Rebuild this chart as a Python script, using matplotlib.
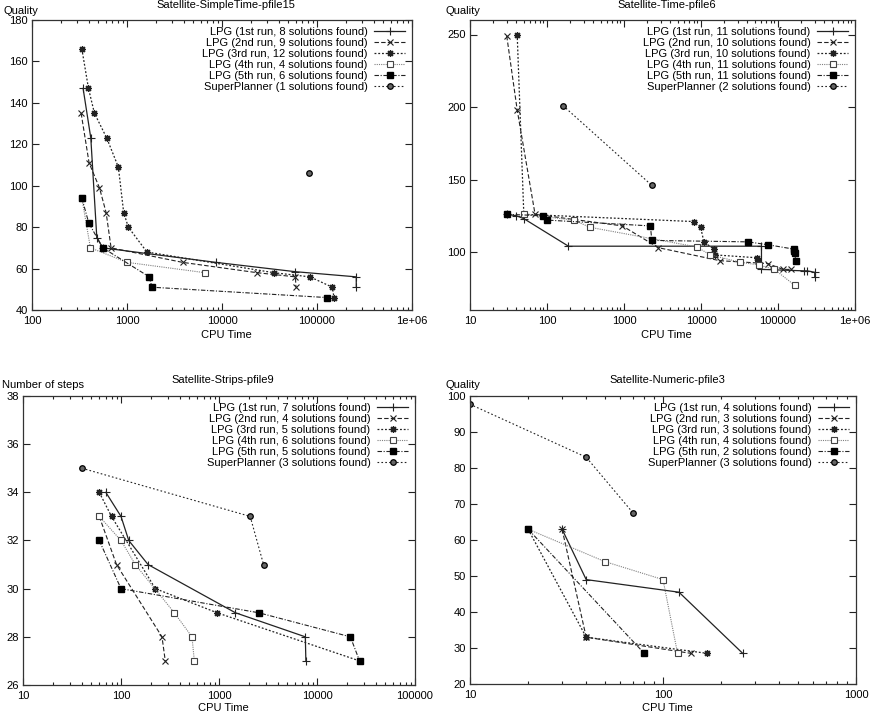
import numpy as np
import matplotlib
matplotlib.use("Agg")
import matplotlib.pyplot as plt
from matplotlib.ticker import FuncFormatter, LogLocator, NullFormatter, MultipleLocator

plt.rcParams['font.family'] = ['Liberation Sans', 'DejaVu Sans']
plt.rcParams['font.size'] = 8

W, H = 876, 717

# ---- data ----
# Satellite-SimpleTime-pfile15
p1_lpg1_x = [345, 416, 481, 556, 8600, 59000, 259000, 259000]
p1_lpg1_y = [147, 123, 75, 70, 63, 58.5, 56, 51]
p1_lpg2_x = [329, 399, 513, 603, 680, 3840, 23500, 59300, 60000]
p1_lpg2_y = [135, 111, 99, 87, 70, 63, 58, 56, 51]
p1_lpg3_x = [335, 393, 454, 612, 811, 923, 1033, 1620, 35200, 84400, 145000, 151000]
p1_lpg3_y = [166, 147, 135, 123, 109, 87, 80, 68, 58, 56, 51, 46]
p1_lpg4_x = [335, 412, 1000, 6640]
p1_lpg4_y = [94, 70, 63, 58]
p1_lpg5_x = [335, 396, 556, 1715, 1830, 128000]
p1_lpg5_y = [94, 82, 70, 56, 51, 46]
p1_sp_x = [82400]
p1_sp_y = [106]
p1_counts = [8, 9, 12, 4, 6, 1]

# Satellite-Time-pfile6
p2_lpg1_x = [30, 40, 50, 190, 61000, 61000, 220000, 240000, 300000, 300000]
p2_lpg1_y = [126, 125, 123, 104, 104, 88, 87, 87, 86, 83]
p2_lpg2_x = [30, 41, 70, 953, 2790, 17600, 74000, 116000, 146000]
p2_lpg2_y = [249, 198, 126, 118, 103, 94, 92, 88, 88]
p2_lpg3_x = [41, 50, 8000, 9900, 10900, 14700, 15200, 54000, 55000]
p2_lpg3_y = [250, 126, 121, 117, 107, 102, 98, 96, 94]
p2_lpg4_x = [50, 221, 364, 8800, 13200, 32000, 57000, 90000, 165000]
p2_lpg4_y = [126, 122, 117, 103.5, 98, 93, 91, 88, 77]
p2_lpg5_x = [30, 90, 100, 2200, 2300, 40800, 74000, 160000, 162000, 165000, 170000]
p2_lpg5_y = [126, 125, 122, 118, 108, 107, 105, 102, 101, 99, 94]
p2_sp_x = [161, 2290]
p2_sp_y = [201, 146]
p2_counts = [11, 10, 10, 11, 11, 2]

# Satellite-Strips-pfile9
p3_lpg1_x = [70, 100, 120, 189, 1470, 7600, 7700]
p3_lpg1_y = [34, 33, 32, 31, 29, 28, 27]
p3_lpg2_x = [60, 90, 262, 283]
p3_lpg2_y = [33, 31, 28, 27]
p3_lpg3_x = [60, 80, 224, 955, 27200]
p3_lpg3_y = [34, 33, 30, 29, 27]
p3_lpg4_x = [60, 100, 140, 350, 530, 560]
p3_lpg4_y = [33, 32, 31, 29, 28, 27]
p3_lpg5_x = [60, 100, 2540, 21900, 27200]
p3_lpg5_y = [32, 30, 29, 28, 27]
p3_sp_x = [40, 2080, 2850]
p3_sp_y = [35, 33, 31]
p3_counts = [7, 4, 5, 6, 5, 3]

# Satellite-Numeric-pfile3
p4_lpg1_x = [30, 40, 121, 259]
p4_lpg1_y = [63, 49, 45.5, 28.5]
p4_lpg2_x = [30, 40, 140]
p4_lpg2_y = [63, 33, 28.5]
p4_lpg3_x = [20, 40, 170]
p4_lpg3_y = [63, 33, 28.5]
p4_lpg4_x = [20, 50, 100, 119]
p4_lpg4_y = [63, 54, 49, 28.5]
p4_lpg5_x = [20, 80]
p4_lpg5_y = [63, 28.5]
p4_sp_x = [10, 40, 70]
p4_sp_y = [97.7, 83, 67.5]
p4_counts = [4, 3, 3, 4, 2, 3]

runs = ['1st', '2nd', '3rd', '4th', '5th']

# gnuplot-ish monochrome linespoints
STYLES = [
    dict(color='#222222', ls='-', lw=0.9, marker='+', ms=5.5, mew=0.8),
    dict(color='#222222', ls=(0, (4, 2)), lw=0.8, marker='x', ms=4.5, mew=0.8),
    dict(color='#222222', ls=(0, (1.5, 1.5)), lw=0.9, marker=(8, 2, 0), ms=5, mew=0.9),
    dict(color='#808080', ls=(0, (1, 1)), lw=0.8, marker='s', ms=4.5, mfc='white', mec='#444444', mew=0.8),
    dict(color='#222222', ls=(0, (4, 1.5, 1, 1.5)), lw=0.8, marker='s', ms=5, mfc='black', mec='black'),
    dict(color='#222222', ls=(0, (1.5, 2)), lw=0.8, marker='o', ms=4, mfc='#666666', mec='black', mew=0.9),
]


def rect(l, r, t, b):
    return [l / W, 1 - b / H, (r - l) / W, (b - t) / H]


def xfmt(v, _):
    if v >= 1e6:
        return '1e+06'
    return f'{v:.0f}'


panels = [
    dict(title='Satellite-SimpleTime-pfile15', ylabel='Quality', box=(32, 412, 20, 310),
         xlim=(100, 1e6), ylim=(40, 180), ystep=20, ylab_x=4, ylab_y=11, title_y=5,
         xlab_y=335,
         series=[(p1_lpg1_x, p1_lpg1_y), (p1_lpg2_x, p1_lpg2_y), (p1_lpg3_x, p1_lpg3_y),
                 (p1_lpg4_x, p1_lpg4_y), (p1_lpg5_x, p1_lpg5_y), (p1_sp_x, p1_sp_y)],
         counts=p1_counts),
    dict(title='Satellite-Time-pfile6', ylabel='Quality', box=(470, 855, 20, 310),
         xlim=(10, 1e6), ylim=(60, 260), yticks=[100, 150, 200, 250], ylab_x=446, ylab_y=11,
         title_y=5, xlab_y=335,
         series=[(p2_lpg1_x, p2_lpg1_y), (p2_lpg2_x, p2_lpg2_y), (p2_lpg3_x, p2_lpg3_y),
                 (p2_lpg4_x, p2_lpg4_y), (p2_lpg5_x, p2_lpg5_y), (p2_sp_x, p2_sp_y)],
         counts=p2_counts),
    dict(title='Satellite-Strips-pfile9', ylabel='Number of steps', box=(23, 415, 396, 685),
         xlim=(10, 1e5), ylim=(26, 38), ystep=2, ylab_x=2, ylab_y=385, title_y=380,
         xlab_y=708,
         series=[(p3_lpg1_x, p3_lpg1_y), (p3_lpg2_x, p3_lpg2_y), (p3_lpg3_x, p3_lpg3_y),
                 (p3_lpg4_x, p3_lpg4_y), (p3_lpg5_x, p3_lpg5_y), (p3_sp_x, p3_sp_y)],
         counts=p3_counts),
    dict(title='Satellite-Numeric-pfile3', ylabel='Quality', box=(470, 856, 396, 684),
         xlim=(10, 1000), ylim=(20, 100), ystep=10, ylab_x=446, ylab_y=385, title_y=380,
         xlab_y=708,
         series=[(p4_lpg1_x, p4_lpg1_y), (p4_lpg2_x, p4_lpg2_y), (p4_lpg3_x, p4_lpg3_y),
                 (p4_lpg4_x, p4_lpg4_y), (p4_lpg5_x, p4_lpg5_y), (p4_sp_x, p4_sp_y)],
         counts=p4_counts),
]

fig = plt.figure(figsize=(W / 100, H / 100), dpi=100)
fig.patch.set_facecolor('white')

for p in panels:
    l, r, t, b = p['box']
    ax = fig.add_axes(rect(l, r, t, b))
    labels = [f'LPG ({runs[i]} run, {p["counts"][i]} solutions found)' for i in range(5)]
    labels.append(f'SuperPlanner ({p["counts"][5]} solutions found)')
    for (xs, ys), st, lab in zip(p['series'], STYLES, labels):
        ax.plot(xs, ys, label=lab, **st)

    ax.set_xscale('log')
    ax.set_xlim(*p['xlim'])
    ax.set_ylim(*p['ylim'])
    ax.xaxis.set_major_locator(LogLocator(base=10))
    ax.xaxis.set_minor_locator(LogLocator(base=10, subs=np.arange(2, 10)))
    ax.xaxis.set_minor_formatter(NullFormatter())
    ax.xaxis.set_major_formatter(FuncFormatter(xfmt))
    if 'yticks' in p:
        ax.set_yticks(p['yticks'])
    else:
        ax.yaxis.set_major_locator(MultipleLocator(p['ystep']))

    ax.tick_params(which='both', direction='in', top=True, right=True,
                   colors='#222222', labelcolor='black', width=0.8)
    ax.tick_params(which='major', length=5)
    ax.tick_params(which='minor', length=2.5)
    ax.tick_params(axis='x', pad=4)
    ax.tick_params(axis='y', pad=3)
    for s in ax.spines.values():
        s.set_color('#333333')
        s.set_linewidth(0.9)

    ax.legend(loc='upper right', frameon=False, markerfirst=False, numpoints=1,
              handlelength=2.8, handletextpad=0.6, labelspacing=0.09,
              borderaxespad=0.3, borderpad=0.3)

    cx = (l + r) / 2 + 4
    fig.text(cx / W, 1 - p['title_y'] / H, p['title'], ha='center', va='center')
    fig.text(cx / W, 1 - p['xlab_y'] / H, 'CPU Time', ha='center', va='center')
    fig.text(p['ylab_x'] / W, 1 - p['ylab_y'] / H, p['ylabel'], ha='left', va='center')

fig.savefig('out.png', dpi=100)
